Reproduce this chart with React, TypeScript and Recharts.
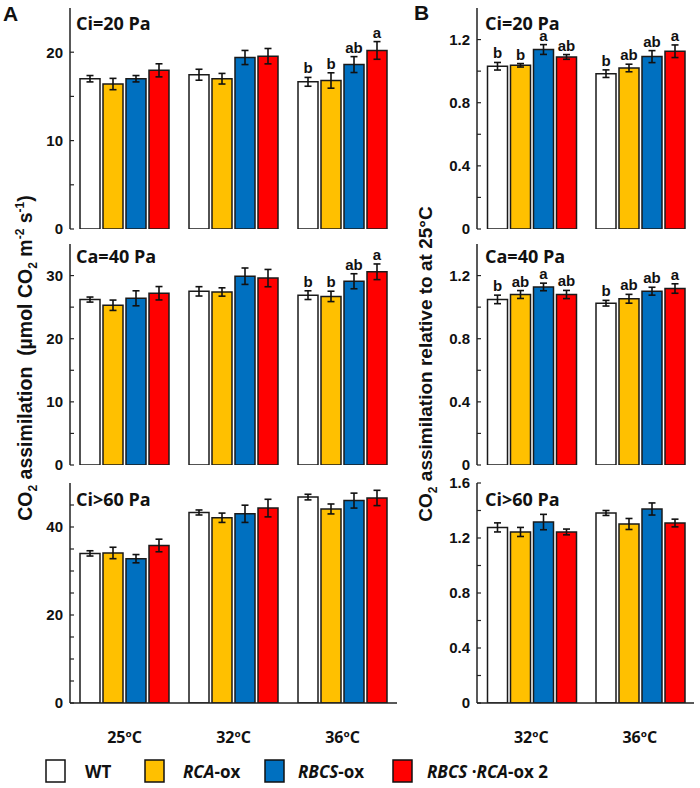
import React from "react";
import { BarChart, Bar, XAxis, YAxis, ErrorBar, LabelList } from "recharts";

// ---------- categories / series ----------
const tempsA = ["25ºC", "32ºC", "36ºC"];
const tempsB = ["32ºC", "36ºC"];
const seriesNames = ["WT", "RCA", "RBCS", "RBCS·RCA"];
const colors = ["#FFFFFF", "#FFC000", "#0070C0", "#FF0000"];

// ---------- Panel A : Ci = 20 Pa ----------
const aCi20WT = [17.0, 17.45, 16.65];
const aCi20RCA = [16.4, 17.0, 16.8];
const aCi20RBCS = [17.0, 19.4, 18.6];
const aCi20Both = [17.95, 19.55, 20.2];
const aCi20WTErr = [0.36, 0.62, 0.5];
const aCi20RCAErr = [0.64, 0.6, 0.87];
const aCi20RBCSErr = [0.36, 0.8, 0.9];
const aCi20BothErr = [0.74, 0.87, 1.0];
const aCi20Letters = [["", "", "b"], ["", "", "b"], ["", "", "ab"], ["", "", "a"]];

// ---------- Panel A : Ca = 40 Pa ----------
const aCa40WT = [26.2, 27.5, 26.9];
const aCa40RCA = [25.3, 27.4, 26.7];
const aCa40RBCS = [26.4, 29.9, 29.1];
const aCa40Both = [27.2, 29.6, 30.6];
const aCa40WTErr = [0.4, 0.74, 0.69];
const aCa40RCAErr = [0.82, 0.66, 0.82];
const aCa40RBCSErr = [1.19, 1.3, 1.19];
const aCa40BothErr = [1.06, 1.37, 1.24];
const aCa40Letters = [["", "", "b"], ["", "", "b"], ["", "", "ab"], ["", "", "a"]];

// ---------- Panel A : Ci > 60 Pa ----------
const aCi60WT = [34.0, 43.3, 46.8];
const aCi60RCA = [34.1, 42.1, 44.1];
const aCi60RBCS = [32.8, 43.0, 46.0];
const aCi60Both = [35.8, 44.3, 46.6];
const aCi60WTErr = [0.6, 0.57, 0.64];
const aCi60RCAErr = [1.3, 1.06, 1.13];
const aCi60RBCSErr = [0.94, 1.96, 1.7];
const aCi60BothErr = [1.43, 2.0, 1.74];

// ---------- Panel B : Ci = 20 Pa ----------
const bCi20WT = [1.031, 0.984];
const bCi20RCA = [1.037, 1.02];
const bCi20RBCS = [1.137, 1.092];
const bCi20Both = [1.09, 1.126];
const bCi20WTErr = [0.024, 0.024];
const bCi20RCAErr = [0.011, 0.024];
const bCi20RBCSErr = [0.031, 0.038];
const bCi20BothErr = [0.015, 0.04];
const bCi20Letters = [["b", "b"], ["b", "ab"], ["a", "ab"], ["ab", "a"]];

// ---------- Panel B : Ca = 40 Pa ----------
const bCa40WT = [1.049, 1.025];
const bCa40RCA = [1.08, 1.053];
const bCa40RBCS = [1.128, 1.101];
const bCa40Both = [1.08, 1.118];
const bCa40WTErr = [0.027, 0.018];
const bCa40RCAErr = [0.025, 0.028];
const bCa40RBCSErr = [0.024, 0.025];
const bCa40BothErr = [0.026, 0.03];
const bCa40Letters = [["b", "b"], ["ab", "ab"], ["a", "ab"], ["ab", "a"]];

// ---------- Panel B : Ci > 60 Pa ----------
const bCi60WT = [1.277, 1.382];
const bCi60RCA = [1.244, 1.302];
const bCi60RBCS = [1.316, 1.411];
const bCi60Both = [1.244, 1.309];
const bCi60WTErr = [0.033, 0.018];
const bCi60RCAErr = [0.033, 0.04];
const bCi60RBCSErr = [0.056, 0.044];
const bCi60BothErr = [0.021, 0.028];

// ---------- axis ticks ----------
const ticksA20 = [0, 5, 10, 15, 20];
const ticksA40 = [0, 5, 10, 15, 20, 25, 30];
const ticksA60 = [0, 5, 10, 15, 20, 25, 30, 35, 40, 45];
const ticksB = [0, 0.2, 0.4, 0.6, 0.8, 1.0, 1.2];
const ticksB60 = [0, 0.2, 0.4, 0.6, 0.8, 1.0, 1.2, 1.4, 1.6];

type Row = Record<string, any>;

function build(cats: string[], vals: number[][], errs: number[][], letters?: string[][]): Row[] {
  return cats.map((c, i) => {
    const row: Row = { cat: c };
    vals.forEach((s, j) => {
      row["v" + j] = s[i];
      row["e" + j] = errs[j][i];
      row["l" + j] = letters ? letters[j][i] : "";
    });
    return row;
  });
}

const dataA20 = build(tempsA, [aCi20WT, aCi20RCA, aCi20RBCS, aCi20Both], [aCi20WTErr, aCi20RCAErr, aCi20RBCSErr, aCi20BothErr], aCi20Letters);
const dataA40 = build(tempsA, [aCa40WT, aCa40RCA, aCa40RBCS, aCa40Both], [aCa40WTErr, aCa40RCAErr, aCa40RBCSErr, aCa40BothErr], aCa40Letters);
const dataA60 = build(tempsA, [aCi60WT, aCi60RCA, aCi60RBCS, aCi60Both], [aCi60WTErr, aCi60RCAErr, aCi60RBCSErr, aCi60BothErr]);
const dataB20 = build(tempsB, [bCi20WT, bCi20RCA, bCi20RBCS, bCi20Both], [bCi20WTErr, bCi20RCAErr, bCi20RBCSErr, bCi20BothErr], bCi20Letters);
const dataB40 = build(tempsB, [bCa40WT, bCa40RCA, bCa40RBCS, bCa40Both], [bCa40WTErr, bCa40RCAErr, bCa40RBCSErr, bCa40BothErr], bCa40Letters);
const dataB60 = build(tempsB, [bCi60WT, bCi60RCA, bCi60RBCS, bCi60Both], [bCi60WTErr, bCi60RCAErr, bCi60RBCSErr, bCi60BothErr]);

const AX = "#222";
const tickFont = { fontSize: 15, fontWeight: 700, fill: "#111", fontFamily: "'Liberation Sans', Arial, sans-serif" };
const xTickFont = { fontSize: 16, fontWeight: 700, fill: "#111", fontFamily: "'Open Sans', 'Noto Sans', sans-serif" };

function makeLetter(data: Row[], j: number) {
  return (props: any) => {
    const { x, y, width, height, index, value } = props;
    if (!value) return null;
    const row = data[index];
    const v = row["v" + j];
    const e = row["e" + j];
    const pxPer = Number(height) / v;
    const ey = Number(y) - e * pxPer;
    return (
      <text x={Number(x) + Number(width) / 2} y={ey - 4} textAnchor="middle" fontSize={15} fontWeight={700} fill="#111" fontFamily="'Liberation Sans', Arial, sans-serif">
        {value}
      </text>
    );
  };
}

type PanelProps = {
  left: number; top: number; width: number; height: number;
  margin: { top: number; right: number; bottom: number; left: number };
  yWidth: number; max: number; ticks: number[]; step: number; decimals: boolean;
  data: Row[]; showX: boolean; gap: number;
};

function Panel(p: PanelProps) {
  const fmt = (v: number) => {
    const r = v / p.step;
    if (Math.abs(r - Math.round(r)) > 1e-6) return "";
    if (v === 0) return "0";
    return p.decimals ? v.toFixed(1) : String(v);
  };
  return (
    <div style={{ position: "absolute", left: p.left, top: p.top, width: p.width, height: p.height }}>
      <BarChart width={p.width} height={p.height} data={p.data} margin={p.margin} barCategoryGap={p.gap} barGap={3}>
        <XAxis
          dataKey="cat"
          height={p.showX ? 50 : 0}
          tick={p.showX ? xTickFont : false}
          tickLine={false}
          tickSize={0}
          tickMargin={29}
          interval={0}
          axisLine={{ stroke: AX, strokeWidth: 1.5 }}
        />
        <XAxis xAxisId="top" dataKey="cat" orientation="top" height={0} tick={false} tickLine={false} axisLine={{ stroke: AX, strokeWidth: 1.5 }} />
        <YAxis
          width={p.yWidth}
          domain={[0, p.max]}
          ticks={p.ticks}
          interval={0}
          allowDataOverflow
          tickSize={-4}
          tickMargin={11}
          tickFormatter={fmt}
          tick={tickFont}
          axisLine={{ stroke: AX, strokeWidth: 1.5 }}
          tickLine={{ stroke: AX, strokeWidth: 1.2 }}
        />
        <YAxis yAxisId="right" orientation="right" width={0} tick={false} tickLine={false} axisLine={{ stroke: AX, strokeWidth: 1.5 }} />
        {colors.map((c, j) => (
          <Bar key={j} dataKey={"v" + j} name={seriesNames[j]} fill={c} stroke="#1a1a1a" strokeWidth={1.5} isAnimationActive={false}>
            <ErrorBar dataKey={"e" + j} width={3.5} stroke="#111" strokeWidth={1.6} direction="y" />
            <LabelList dataKey={"l" + j} content={makeLetter(p.data, j)} />
          </Bar>
        ))}
      </BarChart>
    </div>
  );
}

const titleFont = "'Open Sans', 'Noto Sans', sans-serif";
const axisTitleFont = "'Liberation Sans', Arial, sans-serif";

export default function App() {
  const mA = (t: number, b: number) => ({ top: t, right: 3, bottom: b, left: 0 });
  const mB = (t: number, b: number) => ({ top: t, right: 6, bottom: b, left: 0 });
  return (
    <div style={{ position: "absolute", left: 0, top: 0, width: 700, height: 788, background: "#fff" }}>
      <Panel left={0} top={0} width={400} height={240} margin={mA(8, 11)} yWidth={70} max={25} ticks={ticksA20} step={10} decimals={false} data={dataA20} showX={false} gap={10} />
      <Panel left={0} top={230} width={400} height={250} margin={mA(14, 15)} yWidth={70} max={35} ticks={ticksA40} step={10} decimals={false} data={dataA40} showX={false} gap={10} />
      <Panel left={0} top={460} width={400} height={300} margin={mA(23, 7)} yWidth={70} max={50} ticks={ticksA60} step={20} decimals={false} data={dataA60} showX={true} gap={10} />
      <Panel left={400} top={0} width={300} height={240} margin={mB(8, 11)} yWidth={77} max={1.4} ticks={ticksB} step={0.4} decimals={true} data={dataB20} showX={false} gap={10.5} />
      <Panel left={400} top={230} width={300} height={250} margin={mB(14, 15)} yWidth={77} max={1.4} ticks={ticksB} step={0.4} decimals={true} data={dataB40} showX={false} gap={10.5} />
      <Panel left={400} top={460} width={300} height={300} margin={mB(23, 7)} yWidth={77} max={1.6} ticks={ticksB60} step={0.4} decimals={true} data={dataB60} showX={true} gap={10.5} />

      <svg width={700} height={788} style={{ position: "absolute", left: 0, top: 0, pointerEvents: "none" }}>
        {/* panel letters */}
        <text x={3} y={21} fontSize={21} fontWeight={700} fontFamily={axisTitleFont} fill="#111">A</text>
        <text x={414} y={20} fontSize={21} fontWeight={700} fontFamily={axisTitleFont} fill="#111">B</text>

        {/* in-plot titles */}
        <text x={76} y={30} fontSize={18} fontWeight={700} fontFamily={titleFont} fill="#111">Ci=20 Pa</text>
        <text x={76} y={263} fontSize={18} fontWeight={700} fontFamily={titleFont} fill="#111">Ca=40 Pa</text>
        <text x={76} y={506} fontSize={18} fontWeight={700} fontFamily={titleFont} fill="#111">Ci&gt;60 Pa</text>
        <text x={485} y={30} fontSize={18} fontWeight={700} fontFamily={titleFont} fill="#111">Ci=20 Pa</text>
        <text x={485} y={263} fontSize={18} fontWeight={700} fontFamily={titleFont} fill="#111">Ca=40 Pa</text>
        <text x={485} y={506} fontSize={18} fontWeight={700} fontFamily={titleFont} fill="#111">Ci&gt;60 Pa</text>

        {/* y-axis titles */}
        <text transform="rotate(-90 25 358)" x={25} y={365} textAnchor="middle" fontSize={19.5} fontWeight={700} fontFamily={axisTitleFont} fill="#111">
          <tspan>CO</tspan>
          <tspan fontSize={12} dy={5}>2</tspan>
          <tspan dy={-5}>{" assimilation \u00A0(µmol CO"}</tspan>
          <tspan fontSize={12} dy={5}>2</tspan>
          <tspan dy={-5}>{" m"}</tspan>
          <tspan fontSize={12} dy={-8}>-2</tspan>
          <tspan dy={8}>{" s"}</tspan>
          <tspan fontSize={12} dy={-8}>-1</tspan>
          <tspan dy={8}>)</tspan>
        </text>
        <text transform="rotate(-90 425 364)" x={425} y={371} textAnchor="middle" fontSize={19} fontWeight={700} fontFamily={axisTitleFont} fill="#111">
          <tspan>CO</tspan>
          <tspan fontSize={12} dy={5}>2</tspan>
          <tspan dy={-5}>{" assimilation relative to at 25°C"}</tspan>
        </text>

        {/* legend */}
        <g fontFamily={titleFont} fontSize={17} fontWeight={700} fill="#111">
          <rect x={46} y={760} width={19} height={22} fill={colors[0]} stroke="#111" strokeWidth={1.5} />
          <text x={85} y={778}>WT</text>
          <rect x={145} y={760} width={19} height={22} fill={colors[1]} stroke="#111" strokeWidth={1.5} />
          <text x={183} y={778}><tspan fontStyle="italic">RCA</tspan><tspan>-ox</tspan></text>
          <rect x={265} y={760} width={19} height={22} fill={colors[2]} stroke="#111" strokeWidth={1.5} />
          <text x={298} y={778}><tspan fontStyle="italic">RBCS</tspan><tspan>-ox</tspan></text>
          <rect x={393} y={760} width={19} height={22} fill={colors[3]} stroke="#111" strokeWidth={1.5} />
          <text x={427} y={778}><tspan fontStyle="italic">RBCS</tspan><tspan>{" ·"}</tspan><tspan fontStyle="italic">RCA</tspan><tspan>-ox 2</tspan></text>
        </g>
      </svg>
    </div>
  );
}
